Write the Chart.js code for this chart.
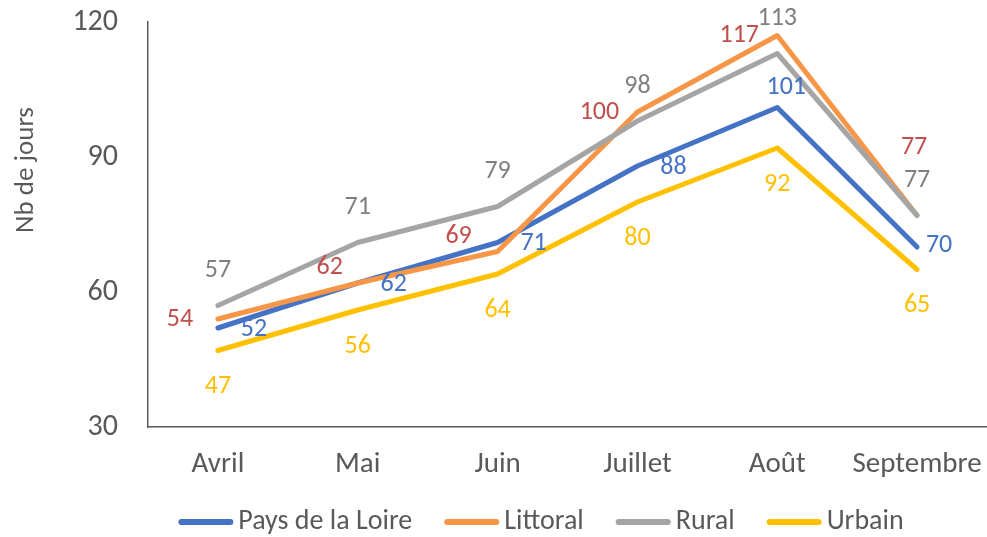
<!DOCTYPE html>
<html>
<head>
<meta charset="utf-8">
<script src="https://cdn.jsdelivr.net/npm/chart.js@4"></script>
<style>
  html, body { margin: 0; padding: 0; background: #ffffff; }
  #wrap { width: 987px; height: 537px; position: relative; }
</style>
</head>
<body>
<div id="wrap"><canvas id="c" width="987" height="537"></canvas></div>
<script>
// ---- Data ----
const categories = ["Avril", "Mai", "Juin", "Juillet", "Août", "Septembre"];
const paysDeLaLoire = [52, 62, 71, 88, 101, 70];
const littoral = [54, 62, 69, 100, 117, 77];
const rural = [57, 71, 79, 98, 113, 77];
const urbain = [47, 56, 64, 80, 92, 65];
const yTicks = [30, 60, 90, 120];
const seriesNames = ["Pays de la Loire", "Littoral", "Rural", "Urbain"];
const yTitle = "Nb de jours";

// ---- Styles ----
const FONT = "Carlito, Calibri, Lato, sans-serif";
const lineColors = ["#4472C4", "#F79646", "#A5A5A5", "#FFC000"];
const labelColors = ["#4472C4", "#C0504D", "#7F7F7F", "#FFC000"];
const textColor = "#595959";
// label offsets relative to point (default per series, with tweaks per index)
const labelOffsets = [
  { dx: 36, dy: 1, tweak: { 4: [9, -20], 5: [22, -2] } },
  { dx: -38, dy: 0, tweak: { 1: [-28, -16], 2: [-39, -15], 5: [-3, -68] } },
  { dx: 0, dy: -35, tweak: {} },
  { dx: 0, dy: 36, tweak: {} }
];

const seriesData = [paysDeLaLoire, littoral, rural, urbain];

const dataLabelPlugin = {
  id: 'dataLabels',
  afterDatasetsDraw(chart) {
    const ctx = chart.ctx;
    ctx.save();
    ctx.font = "26px " + FONT;
    ctx.textAlign = 'center';
    ctx.textBaseline = 'middle';
    chart.data.datasets.forEach((ds, di) => {
      const meta = chart.getDatasetMeta(di);
      const off = labelOffsets[di];
      meta.data.forEach((pt, i) => {
        const t = off.tweak[i];
        const dx = t ? t[0] : off.dx;
        const dy = t ? t[1] : off.dy;
        ctx.fillStyle = labelColors[di];
        ctx.fillText(String(ds.data[i]), pt.x + dx, pt.y + dy);
      });
    });
    ctx.restore();
  }
};

const extrasPlugin = {
  id: 'extras',
  afterDraw(chart) {
    const ctx = chart.ctx;
    ctx.save();
    // Y axis title
    ctx.font = "27px " + FONT;
    ctx.fillStyle = textColor;
    ctx.textAlign = 'center';
    ctx.textBaseline = 'middle';
    ctx.translate(26, 170);
    ctx.rotate(-Math.PI / 2);
    ctx.fillText(yTitle, 0, 0);
    ctx.restore();

    // Legend
    ctx.save();
    ctx.font = "28px " + FONT;
    const lineLen = 55, gapText = 5, gapItem = 32;
    let total = 0;
    const widths = chart.data.datasets.map(ds => ctx.measureText(ds.label).width);
    widths.forEach((w, i) => { total += lineLen + gapText + w + (i < widths.length - 1 ? gapItem : 0); });
    let x = 541 - total / 2;
    const y = 522;
    chart.data.datasets.forEach((ds, i) => {
      ctx.strokeStyle = ds.borderColor;
      ctx.lineWidth = 6;
      ctx.lineCap = 'round';
      ctx.beginPath();
      ctx.moveTo(x + 3, y);
      ctx.lineTo(x + lineLen - 3, y);
      ctx.stroke();
      x += lineLen + gapText;
      ctx.fillStyle = textColor;
      ctx.textAlign = 'left';
      ctx.textBaseline = 'middle';
      ctx.fillText(ds.label, x, y);
      x += widths[i] + gapItem;
    });
    ctx.restore();
  }
};

const datasets = seriesData.map((d, i) => ({
  label: seriesNames[i],
  data: d,
  borderColor: lineColors[i],
  backgroundColor: lineColors[i],
  borderWidth: 5,
  borderCapStyle: 'round',
  borderJoinStyle: 'round',
  pointRadius: 0,
  pointHoverRadius: 0,
  tension: 0,
  fill: false,
  order: seriesData.length - i
}));

new Chart(document.getElementById('c'), {
  type: 'line',
  data: { labels: categories, datasets },
  options: {
    responsive: false,
    animation: false,
    devicePixelRatio: 1,
    layout: { padding: { top: 22, right: 0, left: 0, bottom: 0 } },
    plugins: {
      legend: { display: false },
      tooltip: { enabled: false }
    },
    scales: {
      x: {
        offset: true,
        grid: { display: false, drawTicks: false },
        border: { display: true, color: '#595959', width: 1.5 },
        ticks: { color: textColor, font: { family: FONT, size: 29 }, padding: 20, maxRotation: 0, autoSkip: false },
        afterFit(scale) { scale.height = 110; scale.paddingLeft = 0; scale.paddingRight = 0; }
      },
      y: {
        min: 30, max: 120,
        afterBuildTicks(scale) { scale.ticks = yTicks.map(v => ({ value: v })); },
        grid: { display: false, drawTicks: false },
        border: { display: true, color: '#595959', width: 1.5 },
        ticks: { color: textColor, font: { family: FONT, size: 30 }, padding: 30 },
        afterFit(scale) { scale.width = 148; scale.paddingTop = 0; scale.paddingBottom = 0; }
      }
    }
  },
  plugins: [dataLabelPlugin, extrasPlugin]
});
</script>
</body>
</html>
